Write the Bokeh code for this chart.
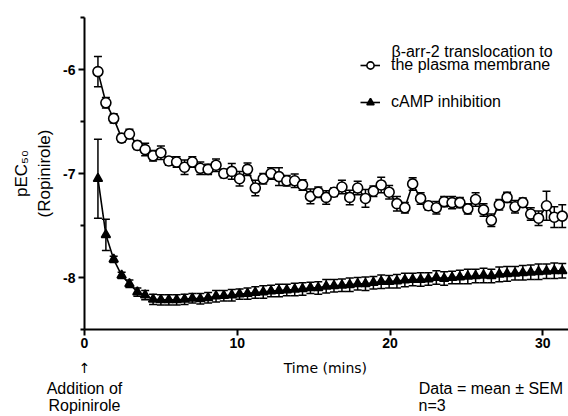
import numpy as np
from bokeh.plotting import figure
from bokeh.models import Range1d, FixedTicker, Label, Legend, LegendItem, LinearAxis
from bokeh.embed import file_html
from bokeh.resources import INLINE

FONT = "Liberation Sans"

# ---- data ----
time_min = [0.88, 1.40, 1.91, 2.43, 2.94, 3.46, 3.97, 4.49, 5.00, 5.52,
            6.03, 6.55, 7.06, 7.58, 8.09, 8.61, 9.12, 9.64, 10.15, 10.67,
            11.18, 11.70, 12.21, 12.73, 13.24, 13.76, 14.27, 14.79, 15.30, 15.82,
            16.33, 16.85, 17.36, 17.88, 18.39, 18.91, 19.42, 19.94, 20.45, 20.97,
            21.48, 22.00, 22.51, 23.03, 23.54, 24.06, 24.57, 25.09, 25.60, 26.12,
            26.63, 27.15, 27.66, 28.18, 28.69, 29.21, 29.72, 30.24, 30.75, 31.27]

barr2_mean = [-6.02, -6.32, -6.47, -6.66, -6.62, -6.73, -6.77, -6.83, -6.80, -6.88,
              -6.89, -6.94, -6.89, -6.95, -6.96, -6.92, -7.00, -6.98, -7.05, -6.96,
              -7.14, -7.05, -7.00, -7.03, -7.07, -7.07, -7.11, -7.22, -7.18, -7.23,
              -7.18, -7.13, -7.23, -7.14, -7.24, -7.17, -7.11, -7.18, -7.29, -7.33,
              -7.10, -7.24, -7.31, -7.33, -7.27, -7.28, -7.28, -7.34, -7.25, -7.35,
              -7.45, -7.30, -7.23, -7.32, -7.28, -7.39, -7.43, -7.31, -7.42, -7.41]

barr2_sem = [0.145, 0.05, 0.045, 0.04, 0.045, 0.04, 0.06, 0.05, 0.065, 0.04,
             0.05, 0.07, 0.05, 0.06, 0.05, 0.06, 0.04, 0.075, 0.07, 0.06,
             0.075, 0.05, 0.055, 0.085, 0.05, 0.065, 0.05, 0.07, 0.05, 0.065,
             0.04, 0.065, 0.07, 0.065, 0.085, 0.05, 0.075, 0.065, 0.07, 0.05,
             0.06, 0.055, 0.04, 0.06, 0.05, 0.06, 0.05, 0.05, 0.065, 0.06,
             0.06, 0.05, 0.05, 0.06, 0.045, 0.06, 0.07, 0.14, 0.10, 0.11]

camp_mean = [-7.05, -7.59, -7.825, -7.98, -8.06, -8.14, -8.17, -8.21, -8.215, -8.215,
             -8.215, -8.21, -8.20, -8.205, -8.195, -8.18, -8.175, -8.17, -8.16, -8.155,
             -8.145, -8.14, -8.13, -8.125, -8.12, -8.115, -8.11, -8.10, -8.10, -8.085,
             -8.08, -8.075, -8.07, -8.06, -8.06, -8.05, -8.04, -8.04, -8.035, -8.025,
             -8.02, -8.02, -8.015, -8.00, -8.01, -8.00, -7.995, -7.99, -7.985, -7.98,
             -7.985, -7.97, -7.965, -7.96, -7.955, -7.95, -7.945, -7.94, -7.935, -7.935]

camp_sem = [0.38, 0.15, 0.03, 0.03, 0.035, 0.04, 0.045, 0.05, 0.05, 0.05,
            0.05, 0.05, 0.045, 0.05, 0.05, 0.055, 0.05, 0.055, 0.05, 0.055,
            0.055, 0.06, 0.055, 0.06, 0.055, 0.06, 0.06, 0.055, 0.06, 0.065,
            0.06, 0.06, 0.065, 0.06, 0.065, 0.06, 0.065, 0.06, 0.065, 0.065,
            0.06, 0.065, 0.06, 0.065, 0.065, 0.06, 0.065, 0.07, 0.065, 0.07,
            0.065, 0.07, 0.07, 0.065, 0.07, 0.07, 0.075, 0.07, 0.075, 0.07]

x_ticks = [0, 10, 20, 30]
y_ticks = [-8, -7, -6]
y_tick_labels = {-8: "-8", -7: "-7", -6: "-6"}
y_minor_ticks = [-8.5, -7.5, -6.5, -5.5]

# ---- figure ----
p = figure(width=568, height=416, x_range=Range1d(0, 31.68), y_range=Range1d(-8.5, -5.5),
           output_backend="svg", toolbar_location=None,
           min_border_left=84, min_border_right=0, min_border_top=17, min_border_bottom=83)
p.outline_line_color = None
p.xgrid.visible = False
p.ygrid.visible = False

xax = p.below[0]
yax = p.left[0]
for ax in (xax, yax):
    ax.axis_line_width = 2
    ax.axis_line_color = "black"
    ax.major_tick_line_width = 2
    ax.major_tick_line_color = "black"
    ax.major_tick_in = 0
    ax.major_tick_out = 6
    ax.major_label_text_font = FONT
    ax.major_label_text_font_style = "bold"
    ax.major_label_text_font_size = "14px"
    ax.major_label_text_color = "black"

xax.ticker = FixedTicker(ticks=x_ticks)
xax.minor_tick_line_color = None
xax.major_label_standoff = 2
yax.ticker = FixedTicker(ticks=y_ticks, minor_ticks=y_minor_ticks)
yax.major_label_overrides = y_tick_labels
yax.minor_tick_in = 0
yax.minor_tick_out = 4
yax.minor_tick_line_width = 2
yax.minor_tick_line_color = "black"
yax.major_label_standoff = 3
yax.axis_label = "pEC\u2085\u2080\n(Ropinirole)"
yax.axis_label_text_font = FONT
yax.axis_label_text_font_style = "normal"
yax.axis_label_text_font_size = "17px"
yax.axis_label_text_color = "black"
yax.axis_label_standoff = 6

# text rows under the x axis, placed by x value through extra axes
def text_row(ticks, labels, standoff, font=FONT, size="16px"):
    ax = LinearAxis(ticker=FixedTicker(ticks=ticks), major_label_overrides=labels,
                    axis_line_color=None, major_tick_line_color=None,
                    minor_tick_line_color=None, major_tick_out=0, major_tick_in=0,
                    minor_tick_out=0, minor_tick_in=0, major_label_standoff=standoff,
                    major_label_text_font=font, major_label_text_font_size=size,
                    major_label_text_font_style="normal",
                    major_label_text_color="black")
    p.add_layout(ax, "below")

text_row([0, 15.77], {0: "\u2191", 15.77: "Time (mins)"}, 9, font="DejaVu Sans", size="14px")
text_row([0, 26.6], {0: "Addition of", 26.6: "Data = mean \u00b1 SEM"}, 1)
text_row([0, 22.75], {0: "Ropinirole", 22.75: "n=3"}, -3)

t = np.array(time_min)

def draw_series(mean, sem, marker, size, fill):
    m = np.array(mean)
    e = np.array(sem)
    p.segment(x0=t, y0=m - e, x1=t, y1=m + e, line_color="black", line_width=1.5)
    p.scatter(t, m + e, marker="dash", size=8, line_color="black", line_width=1.5)
    p.scatter(t, m - e, marker="dash", size=8, line_color="black", line_width=1.5)
    ln = p.line(t, m, line_color="black", line_width=1.6)
    sc = p.scatter(t, m, marker=marker, size=size, fill_color=fill,
                   line_color="black", line_width=1.6)
    return ln, sc

lc, sc_c = draw_series(barr2_mean, barr2_sem, "circle", 10, "white")
lt, sc_t = draw_series(camp_mean, camp_sem, "triangle", 9, "black")

legend = Legend(items=[LegendItem(label="the plasma membrane", renderers=[lc, sc_c]),
                       LegendItem(label="cAMP inhibition", renderers=[lt, sc_t])],
                location=(276, 218), background_fill_alpha=0, border_line_alpha=0,
                padding=0, margin=0, spacing=19, glyph_width=20, glyph_height=18,
                label_height=18, label_standoff=11, label_text_font=FONT,
                label_text_font_size="16px", label_text_color="black",
                label_text_baseline="middle")
p.add_layout(legend)

p.add_layout(Label(x=20.09, y=-5.8275, text="\u03b2-arr-2 translocation to",
                   text_font=FONT, text_font_size="16px", text_align="left",
                   text_baseline="middle", text_color="black"))

open("out.html", "w").write(file_html(p, INLINE))
